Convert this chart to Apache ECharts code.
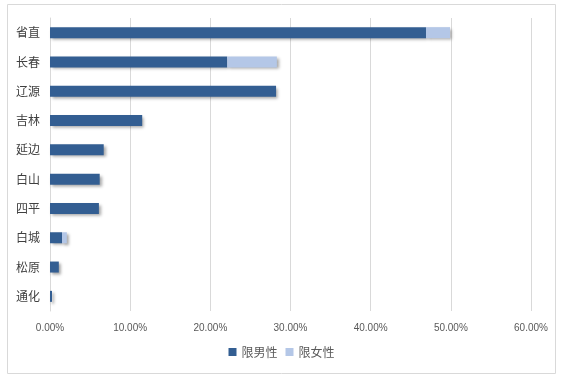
<!DOCTYPE html>
<html><head><meta charset="utf-8">
<script src="https://cdn.jsdelivr.net/npm/echarts@6/dist/echarts.min.js"></script>
<style>html,body{margin:0;padding:0;background:#fff}#c{width:563px;height:381px}</style>
</head><body><div id="c"></div>
<script>
var categories = ['省直','长春','辽源','吉林','延边','白山','四平','白城','松原','通化'];
var maleValues = [46.9, 22.1, 28.2, 11.5, 6.7, 6.2, 6.1, 1.5, 1.1, 0.25];
var femaleValues = [3.0, 6.2, 0, 0, 0, 0, 0, 0.6, 0, 0];
var seriesNames = ['限男性','限女性'];
var xTicks = {min: 0, max: 60, interval: 10};

var chart = echarts.init(document.getElementById('c'));
var shadow = {shadowColor:'rgba(0,0,0,0.35)', shadowBlur:3, shadowOffsetX:2, shadowOffsetY:2};
chart.setOption({
  animation:false,
  graphic:[{type:'rect', shape:{x:7.5,y:4.5,width:548,height:369}, style:{fill:null, stroke:'#d9d9d9', lineWidth:1}, silent:true}],
  grid:{left:50, right:32, top:18, bottom:70},
  legend:{data:seriesNames, bottom:18, left:'center', itemWidth:8, itemHeight:8, itemGap:8,
    icon:'rect', textStyle:{fontSize:12, color:'#595959', fontFamily:'Noto Sans CJK SC'}},
  xAxis:{type:'value', min:xTicks.min, max:xTicks.max, interval:xTicks.interval,
    axisLine:{show:false}, axisTick:{show:false},
    splitLine:{lineStyle:{color:'#d9d9d9'}},
    axisLabel:{formatter:function(v){return v.toFixed(2)+'%';}, fontSize:10, color:'#595959', margin:12, fontFamily:'Liberation Sans'}},
  yAxis:{type:'category', data:categories, inverse:true,
    axisLine:{show:true, lineStyle:{color:'#d9d9d9'}}, axisTick:{show:false},
    axisLabel:{fontSize:12, color:'#404040', margin:10, fontFamily:'Noto Sans CJK SC'}},
  series:[
    {name:seriesNames[0], type:'bar', stack:'a', data:maleValues, barWidth:11,
      itemStyle:Object.assign({color:'#335E92'}, shadow)},
    {name:seriesNames[1], type:'bar', stack:'a', data:femaleValues, barWidth:11,
      itemStyle:Object.assign({color:'#B4C7E7'}, shadow)}
  ]
});
</script></body></html>
